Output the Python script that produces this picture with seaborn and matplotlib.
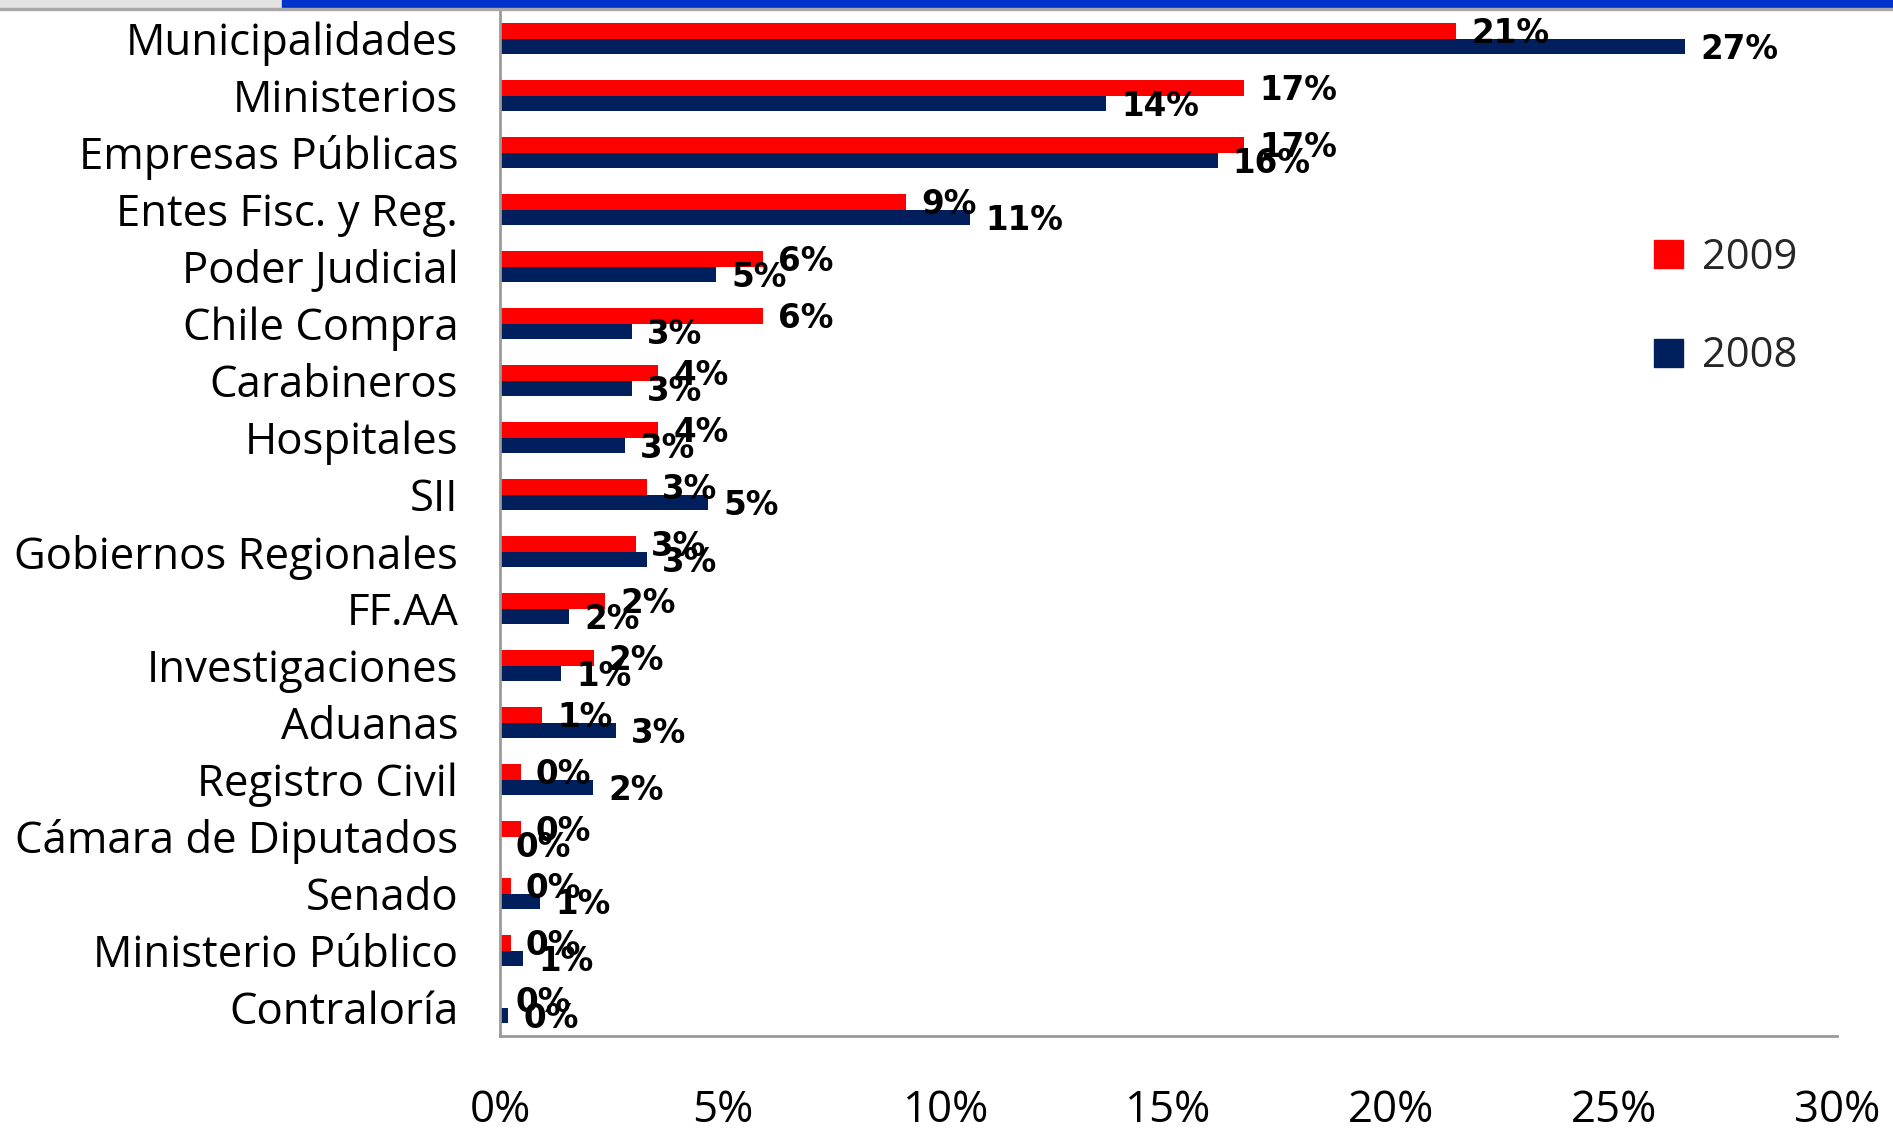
import matplotlib
matplotlib.use("Agg")
import matplotlib.pyplot as plt
from matplotlib.patches import Rectangle
import seaborn as sns
import pandas as pd
import numpy as np

categories = ["Municipalidades", "Ministerios", "Empresas Públicas", "Entes Fisc. y Reg.",
              "Poder Judicial", "Chile Compra", "Carabineros", "Hospitales", "SII",
              "Gobiernos Regionales", "FF.AA", "Investigaciones", "Aduanas", "Registro Civil",
              "Cámara de Diputados", "Senado", "Ministerio Público", "Contraloría"]
values_2009 = [21.45, 16.7, 16.7, 9.1, 5.9, 5.9, 3.55, 3.55, 3.3, 3.05, 2.35, 2.1, 0.95, 0.46,
               0.46, 0.24, 0.24, 0.0]
values_2008 = [26.6, 13.6, 16.1, 10.55, 4.85, 2.96, 2.96, 2.8, 4.66, 3.3, 1.55, 1.36, 2.6, 2.09,
               0.0, 0.9, 0.52, 0.19]
labels_2009 = ["21%", "17%", "17%", "9%", "6%", "6%", "4%", "4%", "3%", "3%", "2%", "2%", "1%",
               "0%", "0%", "0%", "0%", "0%"]
labels_2008 = ["27%", "14%", "16%", "11%", "5%", "3%", "3%", "3%", "5%", "3%", "2%", "1%", "3%",
               "2%", "0%", "1%", "1%", "0%"]
series = ["2009", "2008"]
colors = {"2009": "#FF0000", "2008": "#001F5C"}
xticks = [0, 5, 10, 15, 20, 25, 30]

df = pd.DataFrame({
    "cat": categories * 2,
    "year": ["2009"] * len(categories) + ["2008"] * len(categories),
    "val": values_2009 + values_2008,
})

sns.set_theme(style="white")
plt.rcParams["font.family"] = ["Open Sans", "DejaVu Sans"]

fig = plt.figure(figsize=(18.93, 11.38), dpi=100)
ax = fig.add_axes([500 / 1893, 1 - 1036 / 1138, (1837 - 500) / 1893, (1036 - 10) / 1138])

sns.barplot(data=df, y="cat", x="val", hue="year", hue_order=series, order=categories,
            palette=colors, orient="h", width=0.55, dodge=True, saturation=1,
            edgecolor="none", linewidth=0, ax=ax)

ax.set_xlim(0, 30)
ax.set_ylim(len(categories) - 0.5, -0.5)
ax.set_xticks(xticks)
ax.set_xticklabels([f"{t}%" for t in xticks], fontsize=31.5, color="black")
ax.tick_params(axis="x", pad=38, length=0)
ax.tick_params(axis="y", pad=30, length=0, labelsize=31.5, labelcolor="black")
ax.set_xlabel("")
ax.set_ylabel("")

for side in ["top", "right"]:
    ax.spines[side].set_visible(False)
for side in ["left", "bottom"]:
    ax.spines[side].set_color("#9a9a9a")
    ax.spines[side].set_linewidth(2)

# value labels
for container, labs in zip(ax.containers, [labels_2009, labels_2008]):
    for bar, lab in zip(container, labs):
        w = bar.get_width()
        yc = bar.get_y() + bar.get_height() / 2
        ax.annotate(lab, (w, yc), xytext=(11, -2), textcoords="offset points",
                    ha="left", va="center", fontsize=23.5, fontweight="bold",
                    family=["DejaVu Sans"], color="black")

# legend
handles = [Rectangle((0, 0), 1, 1, color=colors[s]) for s in series]
leg = ax.legend(handles, series, loc="upper left", bbox_to_anchor=(1137 / 1337, 0.795),
                frameon=False, fontsize=30, handlelength=0.7, handleheight=0.65,
                labelspacing=1.35, handletextpad=0.45, borderaxespad=0)

# window-chrome strip at top of the screenshot
fig.patches.append(Rectangle((0, 1 - 8 / 1138), 282 / 1893, 8 / 1138, transform=fig.transFigure,
                             color="#e2e2e2", zorder=0))
fig.patches.append(Rectangle((282 / 1893, 1 - 8 / 1138), 1 - 282 / 1893, 8 / 1138,
                             transform=fig.transFigure, color="#0033CC", zorder=0))
fig.patches.append(Rectangle((0, 1 - 10 / 1138), 1, 2 / 1138, transform=fig.transFigure,
                             color="#a8a8a8", zorder=0))

fig.savefig("out.png", dpi=100)
